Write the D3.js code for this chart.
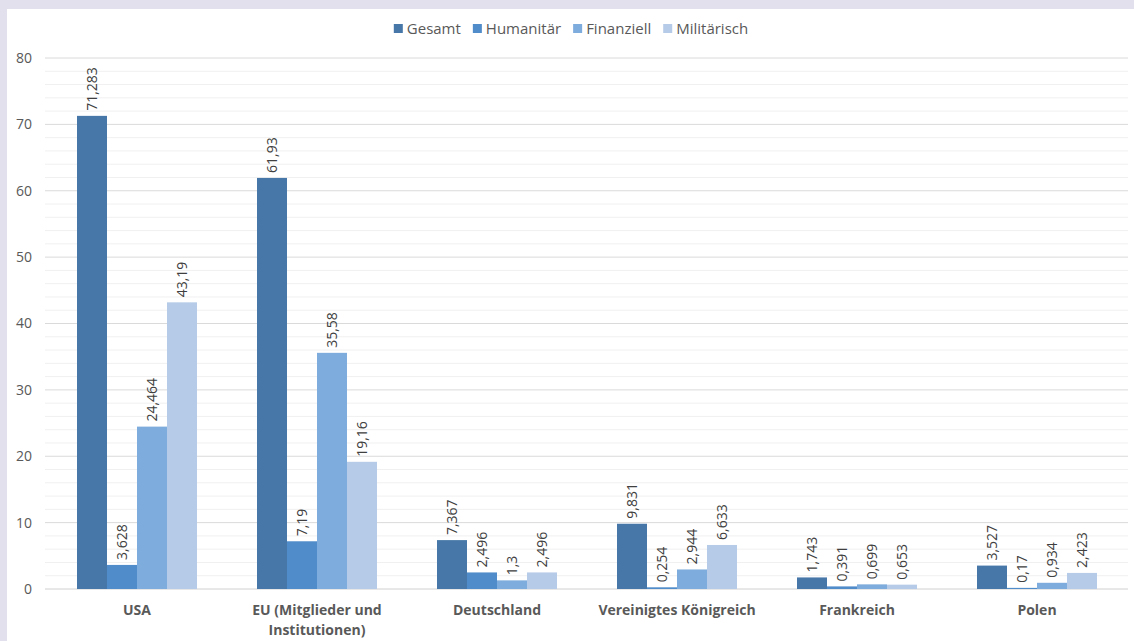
<!DOCTYPE html>
<html><head><meta charset="utf-8">
<script src="https://cdn.jsdelivr.net/npm/d3@7"></script>
<style>
html,body{margin:0;padding:0;background:#e1e0ec;}
svg{display:block;}
text{font-family:"Open Sans","Liberation Sans",sans-serif;}
</style></head>
<body>
<svg id="c" width="1134" height="641"></svg>
<script>
const categories = ["USA", "EU (Mitglieder und|Institutionen)", "Deutschland", "Vereinigtes Königreich", "Frankreich", "Polen"];
const seriesNames = ["Gesamt", "Humanitär", "Finanziell", "Militärisch"];
const gesamt = [71.283, 61.93, 7.367, 9.831, 1.743, 3.527];
const humanitaer = [3.628, 7.19, 2.496, 0.254, 0.391, 0.17];
const finanziell = [24.464, 35.58, 1.3, 2.944, 0.699, 0.934];
const militaerisch = [43.19, 19.16, 2.496, 6.633, 0.653, 2.423];
const yTicks = [0, 10, 20, 30, 40, 50, 60, 70, 80];
const colors = ["#4677a8", "#4f8cc9", "#7eacdc", "#b5cbe8"];

const series = [gesamt, humanitaer, finanziell, militaerisch];
const svg = d3.select("#c");
svg.append("rect").attr("x", 7).attr("y", 9).attr("width", 1127).attr("height", 632).attr("fill", "#ffffff");

const x0 = d3.scaleBand().domain(categories).range([47, 1127]).paddingInner(1/3).paddingOuter(1/6);
const x1 = d3.scaleBand().domain(seriesNames).range([0, x0.bandwidth()]).padding(0);
const y = d3.scaleLinear().domain([0, 80]).range([589, 58]);

// minor grid
const minor = d3.range(0, 81, 2).filter(v => v % 10 !== 0);
svg.append("g").selectAll("line").data(minor).join("line")
  .attr("x1", 45).attr("x2", 1128).attr("y1", d => y(d)).attr("y2", d => y(d))
  .attr("stroke", "#f0f0f0").attr("stroke-width", 1);
// major grid
svg.append("g").selectAll("line").data(yTicks).join("line")
  .attr("x1", 45).attr("x2", 1128).attr("y1", d => y(d)).attr("y2", d => y(d))
  .attr("stroke", d => d === 0 ? "#d0d0d0" : "#dadada").attr("stroke-width", 1);

// y labels
svg.append("g").selectAll("text").data(yTicks).join("text")
  .attr("x", 32).attr("y", d => y(d)).attr("dy", "0.35em")
  .attr("text-anchor", "end").attr("font-size", 14).attr("fill", "#595959")
  .text(d => d);

// bars
const fmt = v => String(v).replace(".", ",");
categories.forEach((c, ci) => {
  seriesNames.forEach((s, si) => {
    const v = series[si][ci];
    const bx = x0(c) + x1(s);
    svg.append("rect").attr("x", bx).attr("y", y(v)).attr("width", x1.bandwidth()).attr("height", y(0) - y(v))
      .attr("fill", colors[si]);
    const tx = bx + x1.bandwidth() / 2;
    const ty = y(v) - 5;
    svg.append("text").attr("transform", `translate(${tx},${ty}) rotate(-90)`)
      .attr("dy", "0.35em").attr("font-size", 14).attr("fill", "#404040")
      .text(fmt(v));
  });
});

// x labels
categories.forEach(c => {
  const lines = c.split("|");
  const t = svg.append("text").attr("x", x0(c) + x0.bandwidth() / 2).attr("y", 615)
    .attr("text-anchor", "middle").attr("font-size", 14).attr("font-weight", "bold").attr("fill", "#595959");
  lines.forEach((l, i) => t.append("tspan").attr("x", x0(c) + x0.bandwidth() / 2).attr("dy", i === 0 ? 0 : 20).text(l));
});

// legend
const lg = svg.append("g");
let lx = 0;
seriesNames.forEach((s, i) => {
  const g = lg.append("g");
  g.append("rect").attr("x", 0).attr("y", -5).attr("width", 9).attr("height", 9).attr("fill", colors[i]);
  const t = g.append("text").attr("x", 13).attr("y", 0).attr("dy", "0.35em").attr("font-size", 15).attr("fill", "#595959").text(s);
  const w = 13 + t.node().getComputedTextLength();
  g.attr("transform", `translate(${lx},0)`);
  lx += w + 12;
});
lx -= 12;
lg.attr("transform", `translate(${571 - lx / 2},29)`);
</script>
</body></html>
